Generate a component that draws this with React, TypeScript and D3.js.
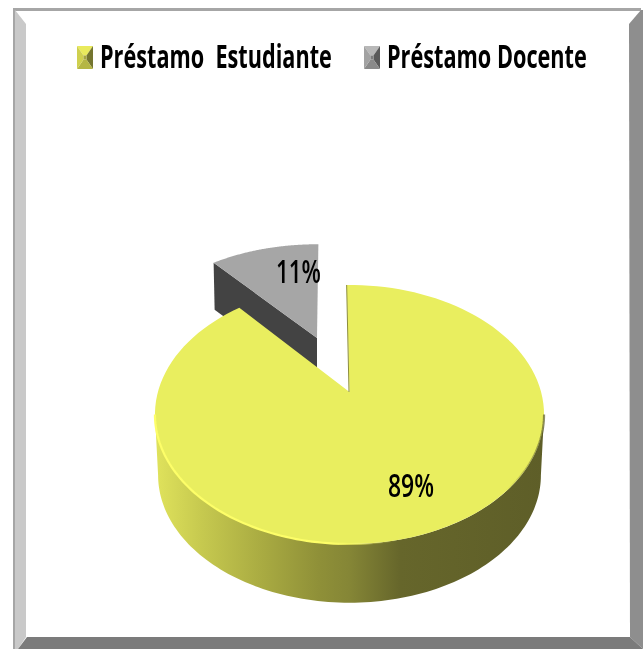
import React, { useLayoutEffect, useMemo, useRef } from 'react';
import * as d3 from 'd3';

const categories = ['Préstamo  Estudiante', 'Préstamo Docente'];
const values = [89, 11];
const percentLabels = ['89%', '11%'];

const width = 643;
const height = 649;
const rad = Math.PI / 180;

// perspective of the tilted disc: k makes the near side larger than the far side
const k = 0.1736;
const yellowDisc = { x: 349.5, y: 392, a: 191.6, b: 125.6, turn: 0 };
const yellowFloor = { x: 349.5, y: 453, a: 188.5, b: 123.7, turn: 0 };
const grayDisc = { x: 317, y: 338, a: 186, b: 110, turn: 1.5 * rad };
const grayDepth = 47;

const project = (disc, angle, r = 1) => {
  const u = r * Math.sin(angle + disc.turn);
  const v = r * Math.cos(angle + disc.turn);
  const w = 1 + k * v;
  return [disc.x + (disc.a * u) / w, disc.y - (disc.b * v) / w];
};

const line = d3.line();
const arcPoints = (disc, from, to, r = 1) =>
  d3.range(0, 121).map((i) => project(disc, from + ((to - from) * i) / 120, r));

const swatchFaces = (x, y, w, h, colors) => {
  const insetX = w / 2 - 1.5;
  const insetY = h / 2 - 2;
  const a = [x, y], b = [x + w, y], c = [x + w, y + h], d = [x, y + h];
  const ia = [x + insetX, y + insetY], ib = [x + w - insetX, y + insetY];
  const ic = [x + w - insetX, y + h - insetY], id = [x + insetX, y + h - insetY];
  return [
    { pts: [a, b, ib, ia], fill: colors[0] },
    { pts: [b, c, ic, ib], fill: colors[1] },
    { pts: [c, d, id, ic], fill: colors[2] },
    { pts: [d, a, ia, id], fill: colors[3] },
    { pts: [ia, ib, ic, id], fill: colors[4] },
  ];
};

const font = '"Open Sans", Lato, sans-serif';

// the original font is condensed, so squeeze the text to the width it has there
const FitText = ({ x, y, w, size, weight, children }) => {
  const ref = useRef(null);
  useLayoutEffect(() => {
    const node = d3.select(ref.current);
    const natural = ref.current.getComputedTextLength();
    node.attr('transform', `translate(${x},${y}) scale(${w / natural},1)`);
  }, [x, y, w]);
  return (
    <text ref={ref} transform={`translate(${x},${y})`} fontFamily={font} fontSize={size} fontWeight={weight} filter="url(#textSoft)" style={{ whiteSpace: 'pre' }}>
      {children}
    </text>
  );
};

export default function App() {
  const slices = useMemo(() => {
    const pie = d3.pie().sort(null).startAngle(-1 * rad).endAngle(359 * rad);
    return pie(values);
  }, []);

  const [yellow, gray] = slices;

  const yellowTop = [[yellowDisc.x, yellowDisc.y], ...arcPoints(yellowDisc, yellow.startAngle, yellow.endAngle)];
  const grayTop = [[grayDisc.x, grayDisc.y], ...arcPoints(grayDisc, gray.startAngle, gray.endAngle)];

  const grayEdge = project(grayDisc, gray.startAngle);
  const grayWall = [
    grayEdge,
    [grayDisc.x, grayDisc.y],
    [grayDisc.x, grayDisc.y + grayDepth],
    [grayEdge[0] + 1, grayEdge[1] + grayDepth],
  ];

  // visible front of the yellow disc, right extreme round to left extreme
  const frontTop = arcPoints(yellowDisc, 100 * rad, 260 * rad);
  const frontFloor = arcPoints(yellowFloor, 100 * rad, 260 * rad).reverse();

  const yellowCut = [[yellowDisc.x - 0.5, yellowDisc.y], project(yellowDisc, yellow.startAngle)];

  const swatches = [
    swatchFaces(77, 46, 16, 23, ['#e9ea5c', '#74752f', '#b5b644', '#cfd04e', '#a4a53f']),
    swatchFaces(364, 46, 16, 23, ['#b8b8b8', '#5a5a5a', '#8a8a8a', '#a2a2a2', '#7d7d7d']),
  ];

  return (
    <svg width={width} height={height} style={{ position: 'absolute', left: 0, top: 0, background: '#fff' }}>
      <defs>
        <linearGradient id="wall" gradientUnits="userSpaceOnUse" x1={155} x2={544} y1={0} y2={0}>
          <stop offset="0" stopColor="#e0e35c" />
          <stop offset="0.12" stopColor="#c6c94f" />
          <stop offset="0.27" stopColor="#aaac42" />
          <stop offset="0.42" stopColor="#8f9038" />
          <stop offset="0.5" stopColor="#858636" />
          <stop offset="0.63" stopColor="#66662b" />
          <stop offset="1" stopColor="#5e5e28" />
        </linearGradient>
        <linearGradient id="rim" gradientUnits="userSpaceOnUse" x1={155} x2={544} y1={0} y2={0}>
          <stop offset="0" stopColor="#fdfe68" />
          <stop offset="0.45" stopColor="#fdfe68" />
          <stop offset="0.62" stopColor="#e9ec5c" stopOpacity="0" />
          <stop offset="0.9" stopColor="#5e5e28" stopOpacity="0" />
          <stop offset="1" stopColor="#5e5e28" stopOpacity="0.7" />
        </linearGradient>
        <filter id="soft" x="-5%" y="-5%" width="110%" height="110%">
          <feGaussianBlur stdDeviation="0.7" />
        </filter>
        <filter id="textSoft" x="-5%" y="-20%" width="110%" height="140%">
          <feGaussianBlur stdDeviation="0.35" />
        </filter>
      </defs>

      {/* frame */}
      <rect x={13} y={8} width={628} height={3} fill="#a6a6a6" />
      <rect x={13} y={8} width={2} height={641} fill="#a6a6a6" />
      <path d="M15,10 L26,24 L26,637 L18,649 L15,649 Z" fill="#c9c9c9" />
      <path d="M641,10 L643,10 L643,649 L630,637 L629,24 Z" fill="#8e8e8e" />
      <path d="M18,649 L27,637 L630,637 L643,649 Z" fill="#7b7b7b" />

      {/* gray slice, pulled out behind */}
      <path d={line(grayWall) + 'Z'} fill="#434343" />
      <path d={line(grayTop) + 'Z'} fill="#a6a6a6" />

      {/* yellow slice */}
      <path d={line([...frontTop, ...frontFloor]) + 'Z'} fill="url(#wall)" />
      <path d={line(yellowTop) + 'Z'} fill="#e9ee5f" />
      <path d={line(arcPoints(yellowDisc, 100 * rad, 260 * rad))} fill="none" stroke="url(#rim)" strokeWidth={2.2} filter="url(#soft)" />
      <path d={line(yellowCut)} fill="none" stroke="#8c8d3c" strokeWidth={1} />

      {/* data labels */}
      <FitText x={388} y={497} w={46} size={33} weight={600}>{percentLabels[0]}</FitText>
      <FitText x={276} y={283} w={45} size={33} weight={600}>{percentLabels[1]}</FitText>

      {/* legend */}
      {swatches.map((faces, i) => (
        <g key={i}>
          {faces.map((f, j) => (
            <path key={j} d={line(f.pts) + 'Z'} fill={f.fill} />
          ))}
        </g>
      ))}
      <FitText x={100} y={68} w={232} size={33} weight={700}>{categories[0]}</FitText>
      <FitText x={387} y={68} w={200} size={33} weight={700}>{categories[1]}</FitText>
    </svg>
  );
}
